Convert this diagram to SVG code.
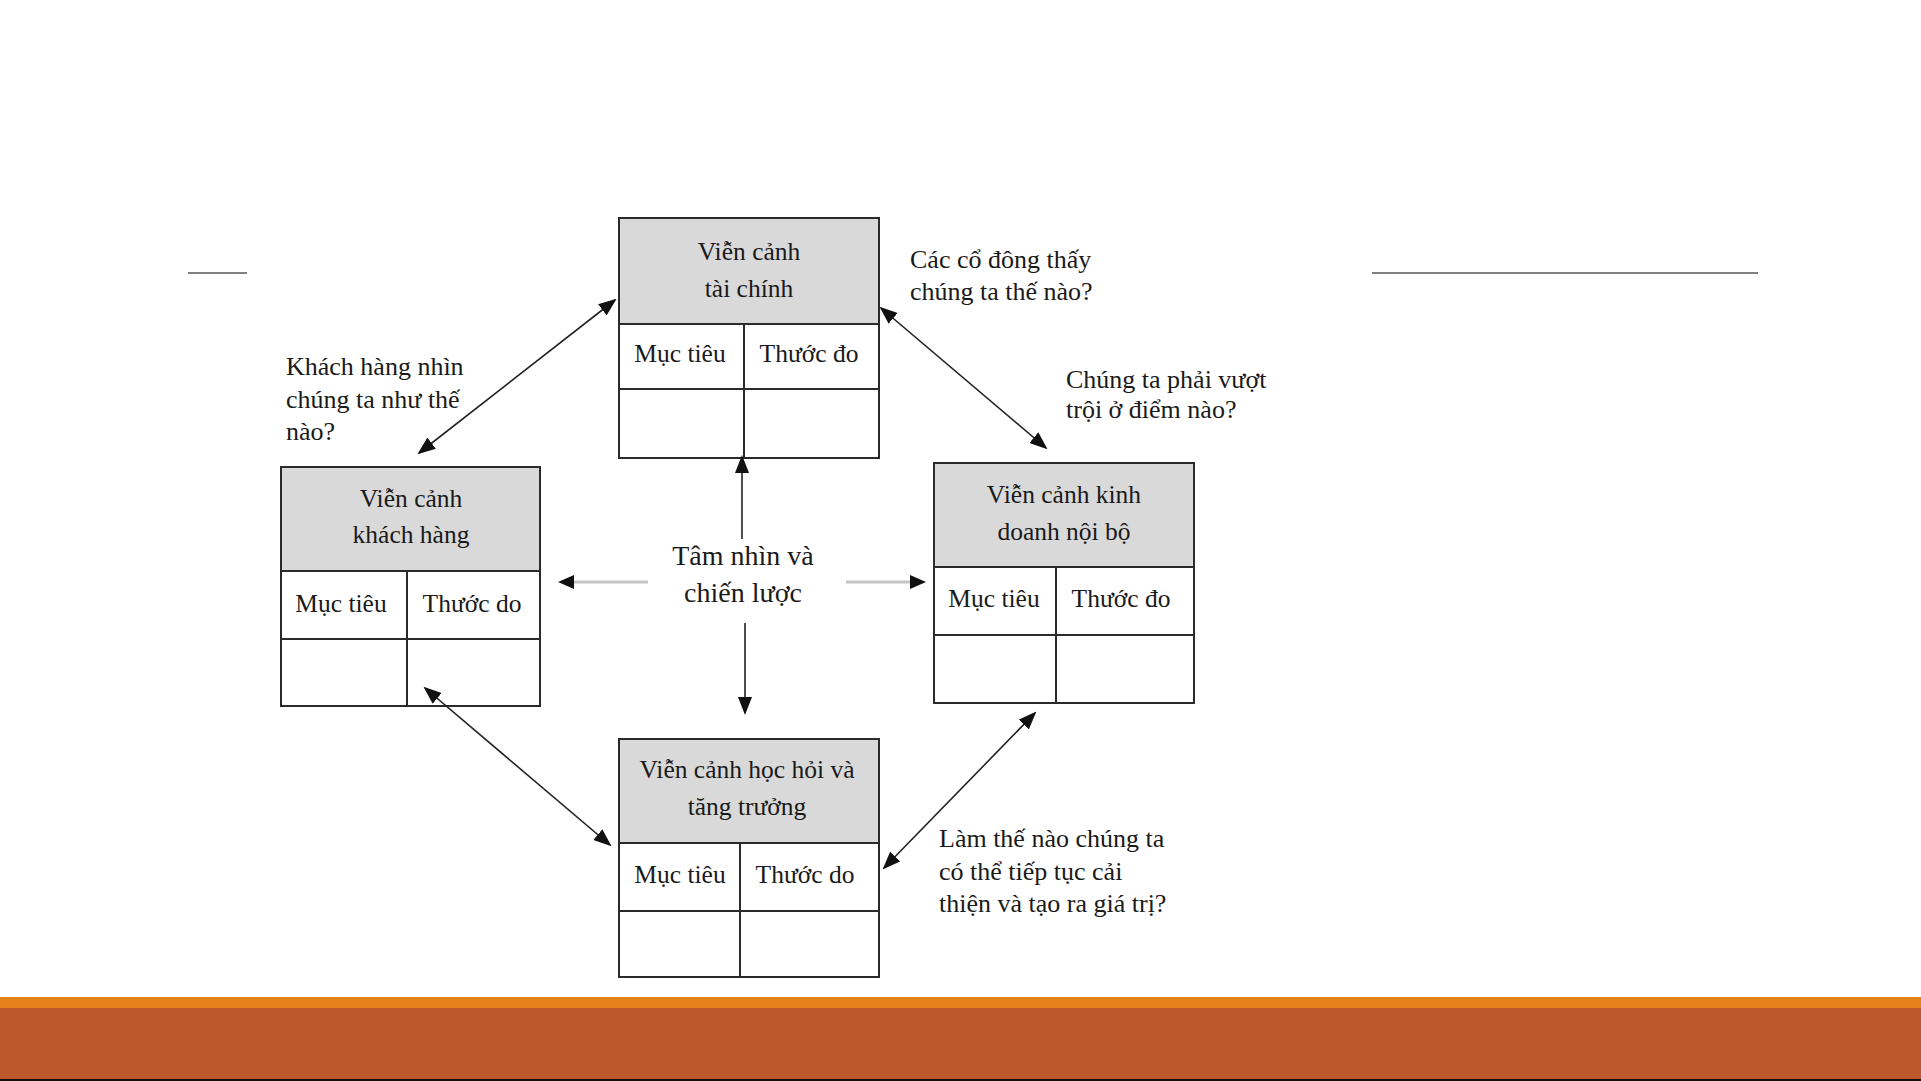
<svg xmlns="http://www.w3.org/2000/svg" width="1921" height="1081" viewBox="0 0 1921 1081">
<style>
.box{fill:#fff;stroke:#2a2a2a;stroke-width:2}
.hdr{fill:#d9d9d9;stroke:none}
.ln{stroke:#2a2a2a;stroke-width:2;fill:none}
.t{font-family:"Liberation Serif","Times New Roman",serif;font-size:25.5px;fill:#1a1a1a}
.c{text-anchor:middle}
.lab{font-family:"Liberation Serif","Times New Roman",serif;font-size:26px;fill:#1a1a1a}
.ctr{font-family:"Liberation Serif","Times New Roman",serif;font-size:28px;fill:#1a1a1a;text-anchor:middle}
.con{stroke:#222;stroke-width:1.6;fill:none}
.gray{stroke:#c4c4c4;stroke-width:3;fill:none}
</style>
<defs>
<marker id="ah" markerUnits="userSpaceOnUse" markerWidth="18" markerHeight="14" refX="16" refY="7" orient="auto-start-reverse" viewBox="0 0 18 14">
<path d="M0,0 L18,7 L0,14 Z" fill="#111"/>
</marker>
</defs>
<rect x="0" y="0" width="1921" height="1081" fill="#fff"/>
<line x1="188" y1="273" x2="247" y2="273" stroke="#808080" stroke-width="2"/>
<line x1="1372" y1="273" x2="1758" y2="273" stroke="#808080" stroke-width="2"/>
<rect x="0" y="997" width="1921" height="11" fill="#e5821a"/>
<rect x="0" y="1008" width="1921" height="71" fill="#bd582c"/>
<rect x="0" y="1079" width="1921" height="2" fill="#111"/>

<g id="financial">
<rect class="box" x="619" y="218" width="260" height="240"/>
<rect class="hdr" x="620" y="219" width="258" height="105"/>
<line class="ln" x1="619" y1="324" x2="879" y2="324"/>
<line class="ln" x1="619" y1="389" x2="879" y2="389"/>
<line class="ln" x1="744" y1="324" x2="744" y2="458"/>
<rect x="619" y="218" width="260" height="240" fill="none" stroke="#2a2a2a" stroke-width="2"/>
<text class="t c" x="749" y="260">Viễn cảnh</text>
<text class="t c" x="749" y="297">tài chính</text>
<text class="t c" x="680" y="362">Mục tiêu</text>
<text class="t c" x="809" y="362">Thước đo</text>
</g>

<g id="customer">
<rect class="box" x="281" y="467" width="259" height="239"/>
<rect class="hdr" x="282" y="468" width="257" height="103"/>
<line class="ln" x1="281" y1="571" x2="540" y2="571"/>
<line class="ln" x1="281" y1="639" x2="540" y2="639"/>
<line class="ln" x1="407" y1="571" x2="407" y2="706"/>
<rect x="281" y="467" width="259" height="239" fill="none" stroke="#2a2a2a" stroke-width="2"/>
<text class="t c" x="411" y="507">Viễn cảnh</text>
<text class="t c" x="411" y="543">khách hàng</text>
<text class="t c" x="341" y="612">Mục tiêu</text>
<text class="t c" x="472" y="612">Thước do</text>
</g>

<g id="internal">
<rect class="box" x="934" y="463" width="260" height="240"/>
<rect class="hdr" x="935" y="464" width="258" height="103"/>
<line class="ln" x1="934" y1="567" x2="1194" y2="567"/>
<line class="ln" x1="934" y1="635" x2="1194" y2="635"/>
<line class="ln" x1="1056" y1="567" x2="1056" y2="703"/>
<rect x="934" y="463" width="260" height="240" fill="none" stroke="#2a2a2a" stroke-width="2"/>
<text class="t c" x="1064" y="503">Viễn cảnh kinh</text>
<text class="t c" x="1064" y="540">doanh nội bộ</text>
<text class="t c" x="994" y="607">Mục tiêu</text>
<text class="t c" x="1121" y="607">Thước đo</text>
</g>

<g id="learning">
<rect class="box" x="619" y="739" width="260" height="238"/>
<rect class="hdr" x="620" y="740" width="258" height="103"/>
<line class="ln" x1="619" y1="843" x2="879" y2="843"/>
<line class="ln" x1="619" y1="911" x2="879" y2="911"/>
<line class="ln" x1="740" y1="843" x2="740" y2="977"/>
<rect x="619" y="739" width="260" height="238" fill="none" stroke="#2a2a2a" stroke-width="2"/>
<text class="t c" x="747" y="778">Viễn cảnh học hỏi và</text>
<text class="t c" x="747" y="815">tăng trưởng</text>
<text class="t c" x="680" y="883">Mục tiêu</text>
<text class="t c" x="805" y="883">Thước do</text>
</g>

<g id="center">
<text class="ctr" x="743" y="565">Tâm nhìn và</text>
<text class="ctr" x="743" y="602">chiến lược</text>
</g>

<g id="labels">
<text class="lab" x="286" y="375">Khách hàng nhìn</text>
<text class="lab" x="286" y="408">chúng ta như thế</text>
<text class="lab" x="286" y="440">nào?</text>
<text class="lab" x="910" y="268">Các cổ đông thấy</text>
<text class="lab" x="910" y="300">chúng ta thế nào?</text>
<text class="lab" x="1066" y="388">Chúng ta phải vượt</text>
<text class="lab" x="1066" y="418">trội ở điểm nào?</text>
<text class="lab" x="939" y="847">Làm thế nào chúng ta</text>
<text class="lab" x="939" y="880">có thể tiếp tục cải</text>
<text class="lab" x="939" y="912">thiện và tạo ra giá trị?</text>
</g>

<g id="connectors">
<line class="con" x1="419" y1="453" x2="615" y2="300" marker-start="url(#ah)" marker-end="url(#ah)"/>
<line class="con" x1="881" y1="308" x2="1046" y2="448" marker-start="url(#ah)" marker-end="url(#ah)"/>
<line class="con" x1="1035" y1="713" x2="884" y2="868" marker-start="url(#ah)" marker-end="url(#ah)"/>
<line class="con" x1="610" y1="845" x2="425" y2="688" marker-start="url(#ah)" marker-end="url(#ah)"/>
<line class="con" x1="742" y1="539" x2="742" y2="457" marker-end="url(#ah)" stroke-width="2"/>
<line class="con" x1="745" y1="623" x2="745" y2="713" marker-end="url(#ah)" stroke-width="2"/>
<line class="gray" x1="648" y1="582" x2="574" y2="582"/>
<path d="M574,575 L558,582 L574,589 Z" fill="#111"/>
<line class="gray" x1="846" y1="582" x2="912" y2="582"/>
<path d="M910,575 L926,582 L910,589 Z" fill="#111"/>
</g>
</svg>
